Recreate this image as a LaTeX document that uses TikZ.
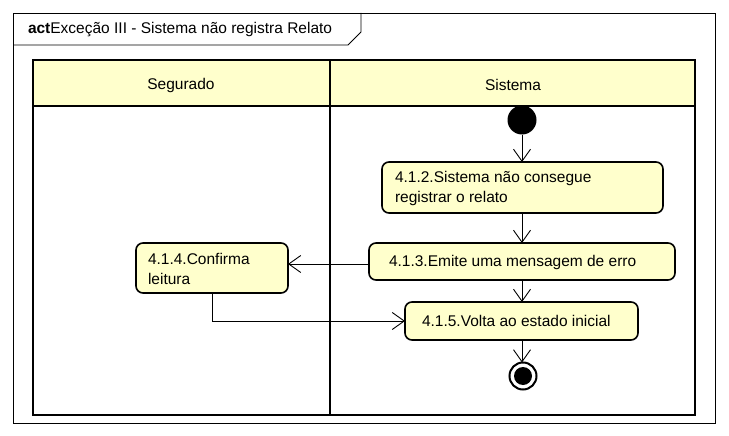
\documentclass[tikz,border=0pt]{standalone}
\usepackage{fontspec}
\setmainfont{Liberation Sans}
\usetikzlibrary{arrows.meta}
\definecolor{umlfill}{RGB}{255,255,204}
\begin{document}
\begin{tikzpicture}[x=1pt,y=-1pt,
  every node/.style={font=\fontsize{15.5}{20}\selectfont, inner sep=0pt, outer sep=0pt},
  actbox/.style={draw, line width=1.6pt, rounded corners=7pt, fill=umlfill, rectangle},
  txt/.style={anchor=west, align=left},
  flow/.style={draw, line width=0.9pt, -{Straight Barb[length=12pt,width=17pt,line width=0.9pt]}}
]
\useasboundingbox (0,0) rectangle (729,436);
\fill[white] (0,0) rectangle (729,436);
% frame
\draw[line width=0.9pt] (13,13) rectangle (715,423);
\draw[line width=0.9pt] (13,45) -- (348,45) -- (361,32) -- (361,13);
\node[anchor=west] (title) at (28,30) {\textbf{act}Exceção III - Sistema não registra Relato};
% swimlanes
\fill[umlfill] (33,60) rectangle (695,106);
\draw[line width=2pt] (33,60) rectangle (695,415);
\draw[line width=2pt] (33,106) -- (695,106);
\draw[line width=2pt] (330,60) -- (330,415);
\node (segurado) at (181,85) {Segurado};
\node (sistema) at (513,85) {Sistema};
% nodes
\node[circle, fill=black, minimum size=29pt] (start) at (522,120) {};
\node[actbox, minimum width=281pt, minimum height=51pt] (n412) at (522.5,187.5) {};
\node[txt] (t412) at (395,188) {4.1.2.Sistema não consegue\\registrar o relato};
\node[actbox, minimum width=306pt, minimum height=37pt] (n413) at (522,261.5) {};
\node[txt] (t413) at (389,262) {4.1.3.Emite uma mensagem de erro};
\node[actbox, minimum width=152pt, minimum height=50pt] (n414) at (212,268) {};
\node[txt] (t414) at (148,269) {4.1.4.Confirma\\leitura};
\node[actbox, minimum width=233pt, minimum height=38pt] (n415) at (521.5,321) {};
\node[txt] (t415) at (422,321) {4.1.5.Volta ao estado inicial};
\node[circle, draw, line width=2pt, fill=white, minimum size=27pt] (final) at (523,376) {};
\node[circle, fill=black, minimum size=18pt] (finaldot) at (final) {};
% connectors
\draw[flow] (start) -- (start |- n412.north);
\draw[flow] (n412.south -| start) -- (n413.north -| start);
\draw[flow] ([yshift=-2.5pt]n413.west) -- ([yshift=4pt]n414.east);
\draw[flow] (n413.south -| start) -- (n415.north -| start);
\draw[flow] (n414.south) |- (n415.west);
\draw[flow] (n415.south -| start) -- (final.north -| start);
\end{tikzpicture}
\end{document}
